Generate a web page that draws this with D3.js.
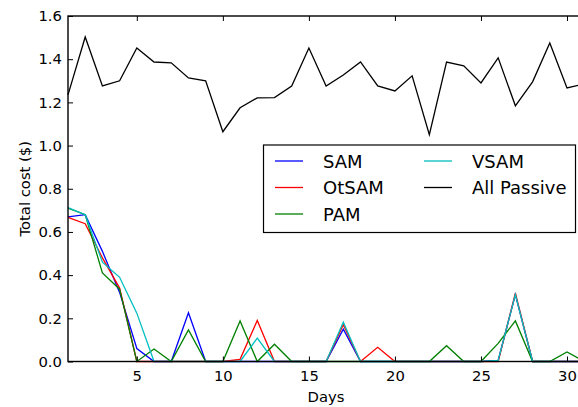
<!DOCTYPE html>
<html>
<head>
<meta charset="utf-8">
<script src="https://cdn.jsdelivr.net/npm/d3@7"></script>
<style>
  html, body { margin: 0; padding: 0; background: #fff; overflow: hidden; }
  text { font-family: "DejaVu Sans", sans-serif; }
</style>
</head>
<body>
<svg id="chart" width="578" height="407"></svg>
<script>
const days = d3.range(1, 32);
const samValues     = [0.67, 0.68, 0.51, 0.32, 0.06, 0, 0, 0.226, 0, 0, 0, 0, 0, 0, 0, 0, 0.15, 0, 0, 0, 0, 0, 0, 0, 0, 0.005, 0.31, 0, 0, 0, 0];
const otsamValues   = [0.667, 0.638, 0.48, 0.34, 0, 0, 0, 0, 0, 0, 0.01, 0.19, 0, 0, 0, 0, 0.17, 0, 0.066, 0, 0, 0, 0, 0, 0, 0, 0.316, 0, 0, 0, 0];
const pamValues     = [0.71, 0.68, 0.41, 0.335, 0, 0.058, 0, 0.146, 0, 0, 0.188, 0, 0.08, 0, 0, 0, 0, 0, 0, 0, 0, 0, 0.073, 0, 0, 0.084, 0.188, 0, 0, 0.044, 0];
const vsamValues    = [0.713, 0.68, 0.46, 0.39, 0.224, 0, 0, 0, 0, 0, 0, 0.108, 0, 0, 0, 0, 0.182, 0, 0, 0, 0, 0, 0, 0, 0, 0.005, 0.31, 0, 0, 0, 0];
const passiveValues = [1.235, 1.503, 1.276, 1.30, 1.452, 1.387, 1.383, 1.313, 1.30, 1.064, 1.175, 1.221, 1.222, 1.276, 1.452, 1.276, 1.327, 1.387, 1.276, 1.253, 1.323, 1.05, 1.387, 1.369, 1.29, 1.406, 1.184, 1.295, 1.475, 1.267, 1.285];
const seriesNames  = ["SAM", "OtSAM", "PAM", "VSAM", "All Passive"];
const seriesColors = ["#0000ff", "#ff0000", "#008000", "#00bfbf", "#000000"];
const xTicks = [5, 10, 15, 20, 25, 30];
const yTicks = [0, 0.2, 0.4, 0.6, 0.8, 1.0, 1.2, 1.4, 1.6];

const allValues = [samValues, otsamValues, pamValues, vsamValues, passiveValues];

const svg = d3.select("#chart");
const mLeft = 68, mRight = 584.2, mTop = 16, mBottom = 361.5;

const x = d3.scaleLinear().domain([1, 31]).range([mLeft, mRight]);
const y = d3.scaleLinear().domain([0, 1.6]).range([mBottom, mTop]);

const g = svg.append("g");

// data lines
const line = d3.line().x((d, i) => x(days[i])).y(d => y(d));
allValues.forEach((vals, k) => {
  g.append("path")
    .datum(vals)
    .attr("d", line)
    .attr("fill", "none")
    .attr("stroke", seriesColors[k])
    .attr("stroke-width", 1.3)
    .attr("stroke-linejoin", "miter");
});

// axes (inside ticks, matplotlib-like)
const fontSize = "14.8px";
const axB = d3.axisBottom(x).tickValues(xTicks).tickSize(-5).tickPadding(8.5).tickFormat(d3.format("d"));
const axT = d3.axisTop(x).tickValues(xTicks).tickSize(-5).tickFormat("");
const axL = d3.axisLeft(y).tickValues(yTicks).tickSize(-5).tickPadding(6).tickFormat(d3.format(".1f"));
const axR = d3.axisRight(y).tickValues(yTicks).tickSize(-5).tickFormat("");

function style(sel) {
  sel.select(".domain").remove();
  sel.selectAll(".tick line").attr("stroke", "#000").attr("stroke-width", 1);
  sel.selectAll(".tick text").attr("fill", "#000").style("font-size", fontSize).style("font-family", "DejaVu Sans");
}
svg.append("g").attr("transform", `translate(0,${mBottom})`).call(axB).call(style);
svg.append("g").attr("transform", `translate(0,${mTop})`).call(axT).call(style);
svg.append("g").attr("transform", `translate(${mLeft},0)`).call(axL).call(style);
svg.append("g").attr("transform", `translate(${mRight},0)`).call(axR).call(style);

// frame
svg.append("rect")
  .attr("x", mLeft).attr("y", mTop)
  .attr("width", mRight - mLeft).attr("height", mBottom - mTop)
  .attr("fill", "none").attr("stroke", "#000").attr("stroke-width", 1.4);

// axis labels
svg.append("text")
  .attr("x", (mLeft + 578) / 2 + 3).attr("y", 402)
  .attr("text-anchor", "middle").style("font-size", fontSize)
  .text("Days");
svg.append("text")
  .attr("transform", `translate(30,${(mTop + mBottom) / 2}) rotate(-90)`)
  .attr("text-anchor", "middle").style("font-size", fontSize)
  .text("Total cost ($)");

// legend
const lg = svg.append("g");
lg.append("rect")
  .attr("x", 263.5).attr("y", 145)
  .attr("width", 312).attr("height", 87.5)
  .attr("fill", "#fff").attr("stroke", "#000").attr("stroke-width", 1.2);
const colX = [275, 424];
const rowY = [161, 187.5, 214];
seriesNames.forEach((name, k) => {
  const col = k < 3 ? 0 : 1;
  const row = k < 3 ? k : k - 3;
  const lx = colX[col], ly = rowY[row];
  lg.append("line")
    .attr("x1", lx).attr("x2", lx + 28)
    .attr("y1", ly).attr("y2", ly)
    .attr("stroke", seriesColors[k]).attr("stroke-width", 1.3);
  lg.append("text")
    .attr("x", lx + 48).attr("y", ly + 6.5)
    .style("font-size", "18px")
    .text(name);
});
</script>
</body>
</html>
